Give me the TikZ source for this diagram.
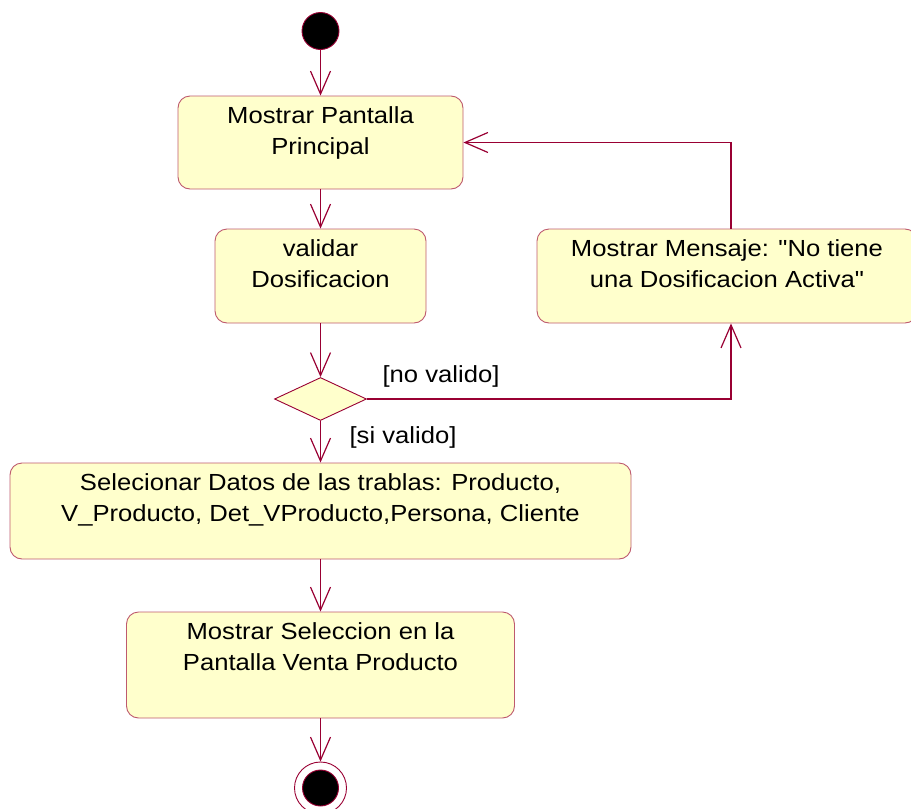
\documentclass[tikz,border=0pt]{standalone}
\usepackage{fontspec}
\setmainfont[FakeStretch=1.1,Ligatures=TeXOff]{Liberation Sans}
\usetikzlibrary{arrows.meta,shapes.geometric}
\definecolor{lnc}{RGB}{153,0,51}
\definecolor{bdc}{RGB}{190,90,110}
\definecolor{flc}{RGB}{255,255,204}
\tikzset{
  actbox/.style={draw=bdc, fill=flc, rounded corners=12pt, line width=0.9pt, inner sep=0pt},
  txt/.style={align=center, inner sep=0pt, font=\fontsize{23.3}{31.7}\selectfont},
  flow/.style={draw=lnc, line width=1.2pt, -{Straight Barb[length=23pt,width=20pt,line width=1.2pt]}},
  guard/.style={inner sep=0pt, font=\fontsize{23.3}{28}\selectfont},
}
\begin{document}
\begin{tikzpicture}[x=1pt,y=-1pt]
\useasboundingbox (0,0) rectangle (911,809);
\clip (0,0) rectangle (911,809);
% start
\node[circle, draw=lnc, fill=black, line width=0.9pt, minimum size=37pt, inner sep=0pt] (start) at (320.5,31) {};
% boxes
\node[actbox, minimum width=285pt, minimum height=93pt] (b1) at (320.5,142.5) {};
\node[txt, anchor=north] (t1) at ([yshift=-10.5pt]b1.north) {Mostrar Pantalla\\Principal};
\node[actbox, minimum width=211pt, minimum height=94pt] (b2) at (320.5,276) {};
\node[txt, anchor=north] (t2) at ([yshift=-10.5pt]b2.north) {validar\\Dosificacion};
\node[actbox, minimum width=380pt, minimum height=94pt] (b3) at (727,276) {};
\node[txt, anchor=north] (t3) at ([yshift=-10.5pt]b3.north) {Mostrar Mensaje: "No tiene\\una Dosificacion Activa"};
\node[diamond, draw=lnc, fill=flc, line width=0.9pt, minimum width=92pt, minimum height=43pt, inner sep=0pt] (d) at (320.5,399) {};
\node[actbox, minimum width=621pt, minimum height=96pt] (b4) at (320.5,511) {};
\node[txt, anchor=north] (t4) at ([yshift=-10.5pt]b4.north) {Selecionar Datos de las trablas: Producto,\\V\_Producto, Det\_VProducto,Persona, Cliente};
\node[actbox, minimum width=388pt, minimum height=106pt] (b5) at (320.5,665) {};
\node[txt, anchor=north] (t5) at ([yshift=-10.5pt]b5.north) {Mostrar Seleccion en la\\Pantalla Venta Producto};
% end
\node[circle, draw=lnc, line width=0.9pt, minimum size=52pt, inner sep=0pt] (endo) at (320.5,788) {};
\node[circle, draw=lnc, fill=black, line width=0.9pt, minimum size=36pt, inner sep=0pt] (endi) at (320.5,788) {};
% flows
\draw[flow] (start) -- (b1);
\draw[flow] (b1) -- (b2);
\draw[flow] (b2) -- (d);
\draw[flow] (d) -- (b4);
\draw[flow] (b4) -- (b5);
\draw[flow] (b5) -- (endo);
\draw[flow] (d.east) -| ([xshift=4pt]b3.south);
\draw[flow] ([xshift=4pt]b3.north) |- (b1.east);
% guards
\node[guard] (g1) at (441,376) {[no valido]};
\node[guard] (g2) at (403,437) {[si valido]};
\end{tikzpicture}
\end{document}
